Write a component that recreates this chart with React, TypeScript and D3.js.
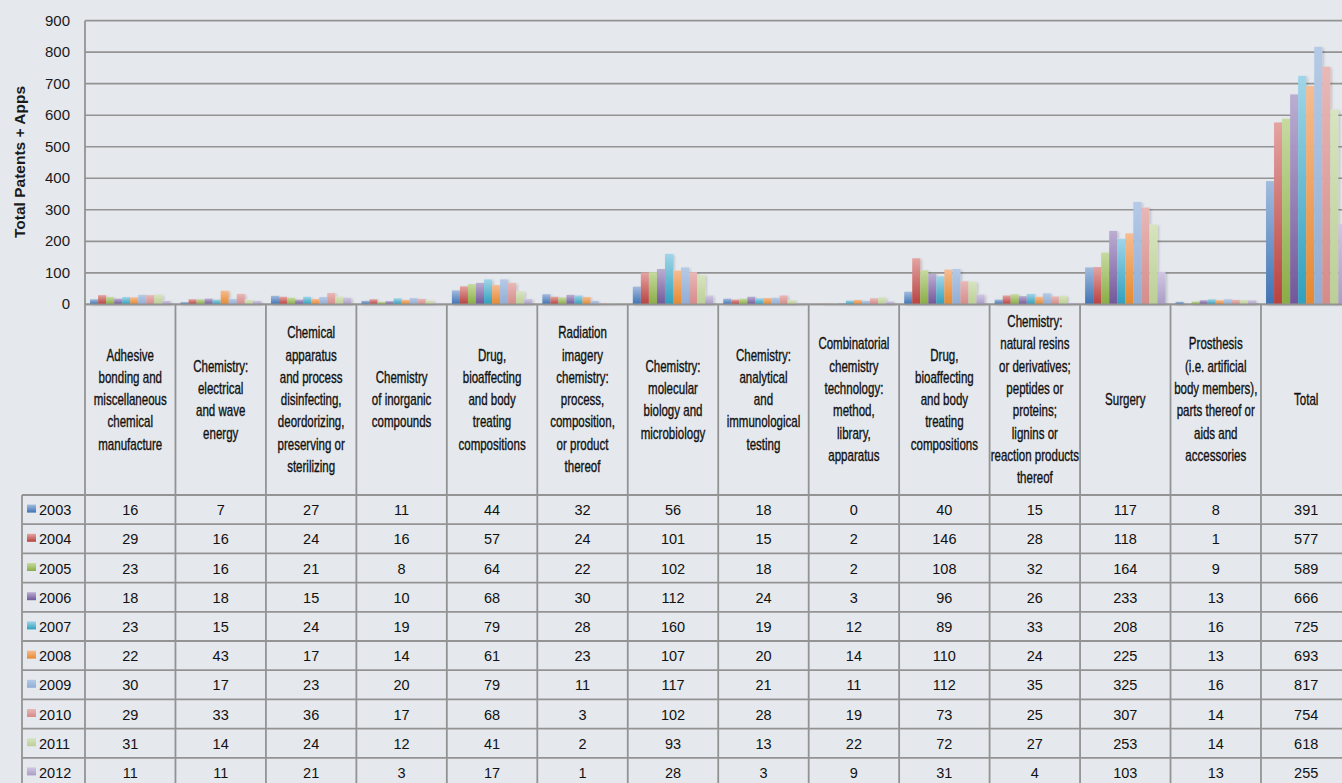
import React from "react";
import * as d3 from "d3";

const categories: string[][] = [
  ["Adhesive", "bonding and", "miscellaneous", "chemical", "manufacture"],
  ["Chemistry:", "electrical", "and wave", "energy"],
  ["Chemical", "apparatus", "and process", "disinfecting,", "deordorizing,", "preserving or", "sterilizing"],
  ["Chemistry", "of inorganic", "compounds"],
  ["Drug,", "bioaffecting", "and body", "treating", "compositions"],
  ["Radiation", "imagery", "chemistry:", "process,", "composition,", "or product", "thereof"],
  ["Chemistry:", "molecular", "biology and", "microbiology"],
  ["Chemistry:", "analytical", "and", "immunological", "testing"],
  ["Combinatorial", "chemistry", "technology:", "method,", "library,", "apparatus"],
  ["Drug,", "bioaffecting", "and body", "treating", "compositions"],
  ["Chemistry:", "natural resins", "or derivatives;", "peptides or", "proteins;", "lignins or", "reaction products", "thereof"],
  ["Surgery"],
  ["Prosthesis", "(i.e. artificial", "body members),", "parts thereof or", "aids and", "accessories"],
  ["Total"],
];

const years = ["2003", "2004", "2005", "2006", "2007", "2008", "2009", "2010", "2011", "2012"];

const v2003 = [16, 7, 27, 11, 44, 32, 56, 18, 0, 40, 15, 117, 8, 391];
const v2004 = [29, 16, 24, 16, 57, 24, 101, 15, 2, 146, 28, 118, 1, 577];
const v2005 = [23, 16, 21, 8, 64, 22, 102, 18, 2, 108, 32, 164, 9, 589];
const v2006 = [18, 18, 15, 10, 68, 30, 112, 24, 3, 96, 26, 233, 13, 666];
const v2007 = [23, 15, 24, 19, 79, 28, 160, 19, 12, 89, 33, 208, 16, 725];
const v2008 = [22, 43, 17, 14, 61, 23, 107, 20, 14, 110, 24, 225, 13, 693];
const v2009 = [30, 17, 23, 20, 79, 11, 117, 21, 11, 112, 35, 325, 16, 817];
const v2010 = [29, 33, 36, 17, 68, 3, 102, 28, 19, 73, 25, 307, 14, 754];
const v2011 = [31, 14, 24, 12, 41, 2, 93, 13, 22, 72, 27, 253, 14, 618];
const v2012 = [11, 11, 21, 3, 17, 1, 28, 3, 9, 31, 4, 103, 13, 255];

const seriesValues = [v2003, v2004, v2005, v2006, v2007, v2008, v2009, v2010, v2011, v2012];

const yTicks = [0, 100, 200, 300, 400, 500, 600, 700, 800, 900];

const colorTop = ["#a2bbdd", "#e4a3a1", "#c6da9f", "#bbadd2", "#a0d5e8", "#f6bc92", "#b5cae6", "#e8b8b7", "#d7e4bf", "#d0c7e2"];
const colorBottom = ["#3e73b5", "#b8423f", "#89ad44", "#71579a", "#2fa0bd", "#e5892f", "#91add5", "#d48c8a", "#bbcf95", "#aa9cc6"];

export default function App() {
  const W = 1342, H = 783;
  const left = 85;
  const colW = 90.46;
  const nCols = categories.length;
  const right = left + colW * nCols;
  const y0 = 304.3, yTop = 20.7;
  const tableTop = 495;
  const rowH = 29.2;
  const legendLeft = 22;

  const x0 = d3.scaleBand<number>().domain(d3.range(nCols)).range([left, right]).paddingInner(0).paddingOuter(0);
  const x1 = d3.scaleBand<number>().domain(d3.range(years.length)).range([0, x0.bandwidth()]).paddingInner(0).paddingOuter(0.63);
  const y = d3.scaleLinear().domain([0, 900]).range([y0, yTop]);

  const lineColor = "#939393";
  const headerFont = "'Liberation Sans', Arial, sans-serif";
  const numFont = "'Liberation Sans', Arial, sans-serif";
  const headerCenter = (y0 + tableTop) / 2;
  const lh = 22.3;

  return (
    <div style={{ position: "fixed", left: 0, top: 0, width: W, height: H, overflow: "hidden", background: "#e5e8ed" }}>
      <svg width={W} height={H} style={{ display: "block" }}>
        <defs>
          {years.map((yr, i) => (
            <linearGradient key={yr} id={`g${i}`} x1="0" y1="0" x2="0" y2="1">
              <stop offset="0%" stopColor={colorTop[i]} />
              <stop offset="100%" stopColor={colorBottom[i]} />
            </linearGradient>
          ))}
          <filter id="shadow" x="-20%" y="-5%" width="160%" height="115%">
            <feDropShadow dx="1.5" dy="1" stdDeviation="1.2" floodColor="#000" floodOpacity="0.18" />
          </filter>
        </defs>

        {yTicks.map((t) => (
          <line key={t} x1={left} x2={right} y1={y(t)} y2={y(t)} stroke={lineColor} strokeWidth={1.7} />
        ))}

        {yTicks.map((t) => (
          <text key={"l" + t} x={70} y={y(t) + 5} textAnchor="end" fontFamily={numFont} fontSize={15} fill="#1a1a1a">
            {t}
          </text>
        ))}

        <text
          transform={`translate(${19},${162}) rotate(-90)`}
          textAnchor="middle"
          dominantBaseline="central"
          fontFamily={numFont}
          fontWeight="bold"
          fontSize={15.5}
          fill="#1a1a1a"
        >
          Total Patents + Apps
        </text>

        <g filter="url(#shadow)">
          {seriesValues.map((vals, si) =>
            vals.map((v, ci) => (
              <rect
                key={`${si}-${ci}`}
                x={(x0(ci) as number) + (x1(si) as number)}
                y={y(v)}
                width={x1.bandwidth()}
                height={Math.max(0, y0 - y(v))}
                fill={`url(#g${si})`}
              />
            ))
          )}
        </g>

        <line x1={left} x2={right} y1={y0} y2={y0} stroke={lineColor} strokeWidth={1.8} />
        <line x1={left} x2={left} y1={yTop} y2={H + 10} stroke={lineColor} strokeWidth={1.8} />

        {d3.range(1, nCols + 1).map((i) => (
          <line key={"v" + i} x1={left + colW * i} x2={left + colW * i} y1={y0} y2={H + 10} stroke={lineColor} strokeWidth={1.8} />
        ))}
        <line x1={legendLeft} x2={legendLeft} y1={tableTop} y2={H + 10} stroke={lineColor} strokeWidth={1.8} />

        {d3.range(0, years.length + 1).map((k) => (
          <line key={"h" + k} x1={legendLeft} x2={right} y1={tableTop + rowH * k} y2={tableTop + rowH * k} stroke={lineColor} strokeWidth={1.8} />
        ))}

        {categories.map((lines, ci) => {
          const cx = (x0(ci) as number) + x0.bandwidth() / 2;
          const startY = headerCenter - ((lines.length - 1) * lh) / 2;
          return (
            <text
              key={"c" + ci}
              transform={`translate(${cx},0) scale(0.72,1)`}
              textAnchor="middle"
              fontFamily={headerFont}
              fontSize={16}
              fill="#111"
              stroke="#111"
              strokeWidth={0.35}
            >
              {lines.map((ln, li) => (
                <tspan key={li} x={0} y={startY + li * lh + 5.5}>
                  {ln}
                </tspan>
              ))}
            </text>
          );
        })}

        {years.map((yr, si) => {
          const cy = tableTop + rowH * (si + 0.5);
          return (
            <g key={"r" + yr}>
              <rect x={27} y={cy - 5} width={9} height={8} fill={`url(#g${si})`} />
              <text x={39} y={cy + 5.5} fontFamily={numFont} fontSize={14.5} fill="#111">
                {yr}
              </text>
              {seriesValues[si].map((v, ci) => (
                <text
                  key={ci}
                  x={(x0(ci) as number) + x0.bandwidth() / 2}
                  y={cy + 5.5}
                  textAnchor="middle"
                  fontFamily={numFont}
                  fontSize={14.5}
                  fill="#111"
                >
                  {v}
                </text>
              ))}
            </g>
          );
        })}
      </svg>
    </div>
  );
}
